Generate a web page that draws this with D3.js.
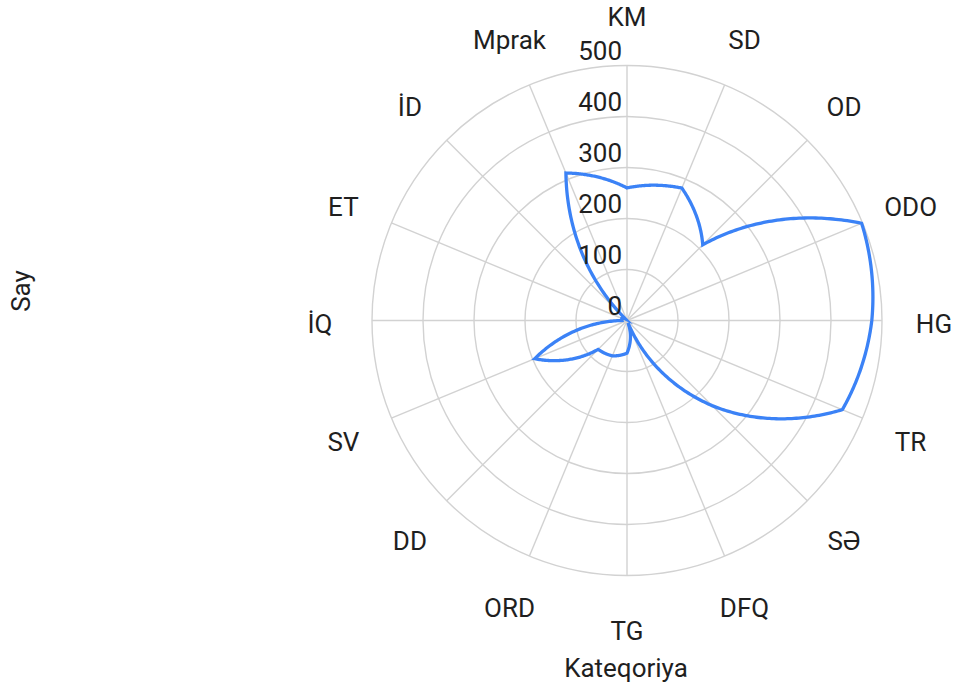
<!DOCTYPE html>
<html>
<head>
<meta charset="utf-8">
<script src="https://cdn.jsdelivr.net/npm/d3@7"></script>
<style>
  body { margin: 0; background: #fff; }
  text { font-family: Roboto, "Liberation Sans", sans-serif; fill: #1f1f1f; }
</style>
</head>
<body>
<svg id="chart" width="955" height="688"></svg>
<script>
'use strict';

// ---- Data -------------------------------------------------------------------

const categories  = ['KM', 'SD', 'OD', 'ODO', 'HG', 'TR', 'SƏ', 'DFQ', 'TG', 'ORD', 'DD', 'SV', 'İQ', 'ET', 'İD', 'Mprak'];
const counts      = [260, 281, 210, 498, 480, 457, 236, 5, 64, 75, 80, 196, 10, 11, 5, 313];
const radialTicks = [0, 100, 200, 300, 400, 500];
const xTitle = 'Kateqoriya';
const yTitle = 'Say';

// ---- Layout -----------------------------------------------------------------

const cx = 627, cy = 320.5;
const R = 255;            // radius of the 500 ring
const LABEL_R = 307;      // category labels
const FONT = 26;

const svg = d3.select('#chart');
const g = svg.append('g').attr('transform', `translate(${cx},${cy})`);

// Angle for each category, clockwise from the top.
const angle = d3.scaleBand().domain(categories).range([0, 2 * Math.PI]).paddingInner(0).paddingOuter(0);
const r = d3.scaleLinear().domain([0, 500]).range([0, R]);

// ---- Grid -------------------------------------------------------------------

const grid = g.append('g').attr('fill', 'none').attr('stroke', '#d2d2d2').attr('stroke-width', 1.4);

grid.selectAll('circle')
  .data(radialTicks.filter(t => t > 0))
  .join('circle')
  .attr('r', d => r(d));

grid.selectAll('line')
  .data(categories)
  .join('line')
  .attr('x1', 0).attr('y1', 0)
  .attr('x2', d => R * Math.sin(angle(d)))
  .attr('y2', d => -R * Math.cos(angle(d)));

// ---- Data line (straight in data space, so it spirals on screen) -------------

function polarPath(values) {
  const p = d3.path();
  const n = values.length;
  const STEPS = 60;
  for (let i = 0; i < n; i++) {
    const a0 = angle(categories[i]);
    let a1 = angle(categories[(i + 1) % n]);
    if (i === n - 1) a1 += 2 * Math.PI;
    const r0 = r(values[i]), r1 = r(values[(i + 1) % n]);
    const ia = d3.interpolateNumber(a0, a1), ir = d3.interpolateNumber(r0, r1);
    for (let k = 0; k <= STEPS; k++) {
      const t = k / STEPS;
      const x = ir(t) * Math.sin(ia(t)), y = -ir(t) * Math.cos(ia(t));
      if (i === 0 && k === 0) p.moveTo(x, y); else p.lineTo(x, y);
    }
  }
  p.closePath();
  return p.toString();
}

g.append('path')
  .attr('d', polarPath(counts))
  .attr('fill', 'none')
  .attr('stroke', '#3b82f6')
  .attr('stroke-width', 3.3)
  .attr('stroke-linejoin', 'miter')
  .attr('stroke-miterlimit', 6);

// ---- Labels -----------------------------------------------------------------

g.append('g').selectAll('text')
  .data(radialTicks)
  .join('text')
  .attr('x', -5)
  .attr('y', d => -r(d) - 6)
  .attr('text-anchor', 'end')
  .attr('font-size', FONT)
  .text(d => d);

g.append('g').selectAll('text')
  .data(categories)
  .join('text')
  .attr('x', d => LABEL_R * Math.sin(angle(d)))
  .attr('y', d => 3.2 - LABEL_R * Math.cos(angle(d)) + FONT * 0.36)
  .attr('text-anchor', 'middle')
  .attr('font-size', FONT)
  .text(d => d);

svg.append('text')
  .attr('x', 626).attr('y', 677)
  .attr('text-anchor', 'middle')
  .attr('font-size', FONT)
  .text(xTitle);

svg.append('text')
  .attr('transform', 'translate(30,291) rotate(-90)')
  .attr('text-anchor', 'middle')
  .attr('font-size', FONT)
  .text(yTitle);
</script>
</body>
</html>
